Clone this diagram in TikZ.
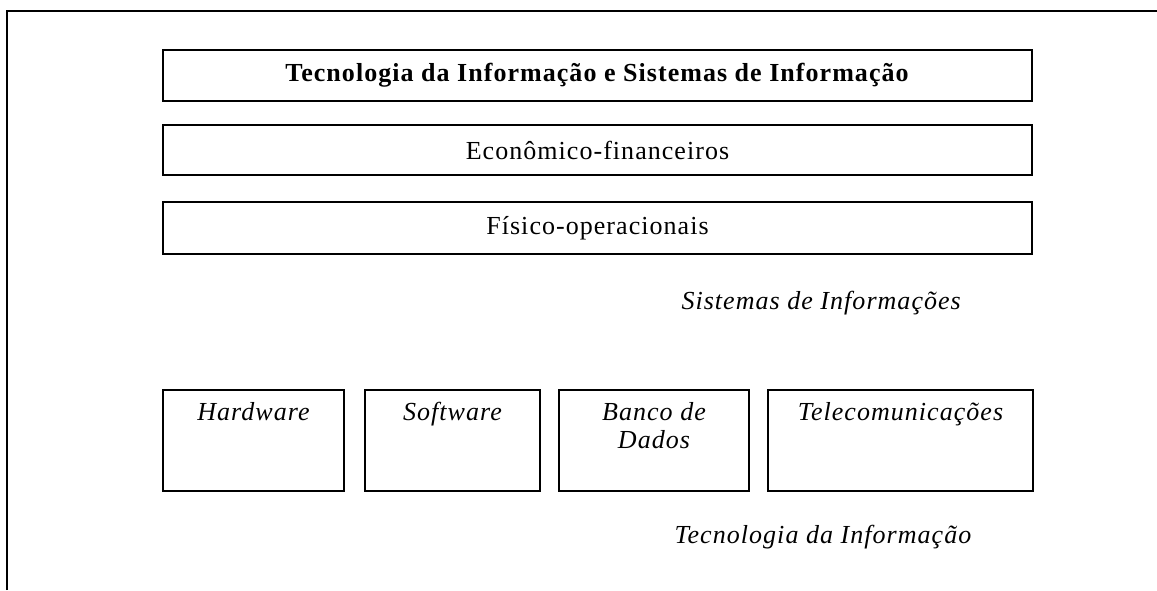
\documentclass[tikz,border=0pt]{standalone}
\usepackage{fontspec}
\setmainfont[LetterSpace=4]{Liberation Serif}
\usetikzlibrary{
  positioning,  % Function "of" (e.g. [below=of x])
}
\newcommand{\txtsize}{\fontsize{26}{28}\selectfont}
\tikzset{
  font=\txtsize,
  frame/.style={
    draw,
    line width=1.6pt
  },
  layer box/.style={
    draw,
    line width=1.6pt,
    minimum width=869pt,
    minimum height=51pt,
    inner sep=0pt,
    outer sep=0pt
  },
  ti box/.style={
    draw,
    line width=1.6pt,
    minimum height=101pt,
    inner sep=0pt,
    outer sep=0pt
  },
  ti label/.style={
    anchor=north,
    align=center,
    font=\txtsize\itshape,
    yshift=-9pt
  },
  caption/.style={
    font=\txtsize\itshape,
    anchor=west
  }
}

\begin{document}
\begin{tikzpicture}[x=1pt,y=-1pt]
\useasboundingbox (0,0) rectangle (1157,590);
% Outer frame
\draw[frame] (7,590) -- (7,11) -- (1157,11);
% Layer boxes
\node[layer box,anchor=north west] (tisi) at (163,50) {\textbf{Tecnologia da Informação e Sistemas de Informação}};
\node[layer box,minimum height=50pt] (econ) [below=24pt of tisi] {Econômico-financeiros};
\node[layer box,minimum height=52pt] (fis)  [below=27pt of econ] {Físico-operacionais};
\node[caption] (si) at (678,303) {Sistemas de Informações};
% Components of the information technology
\node[ti box,minimum width=181pt,anchor=north west,label={[ti label]north:Hardware}] (hw) at (163,390) {};
\node[ti box,minimum width=175pt,label={[ti label]north:Software}]           (sw) [right=21pt of hw] {};
\node[ti box,minimum width=190pt,label={[ti label]north:{Banco de\\Dados}}] (bd) [right=19pt of sw] {};
\node[ti box,minimum width=265pt,label={[ti label]north:Telecomunicações}]   (tc) [right=19pt of bd] {};
\node[caption] (ti) at (671,537) {Tecnologia da Informação};
\end{tikzpicture}
\end{document}
